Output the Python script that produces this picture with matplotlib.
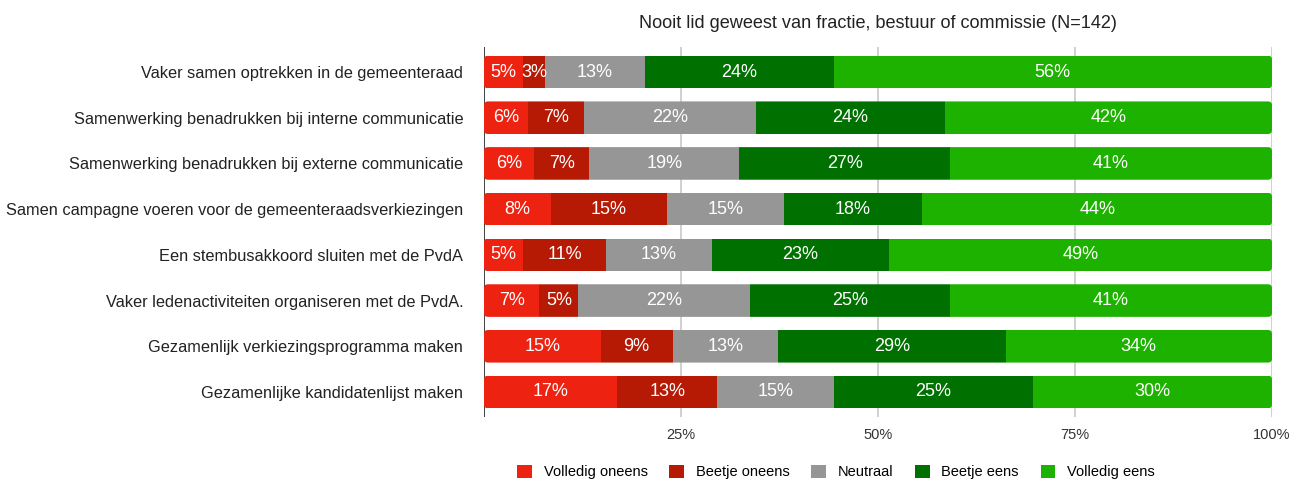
import matplotlib
matplotlib.use("Agg")
import matplotlib.pyplot as plt
from matplotlib.patches import FancyBboxPatch, Patch
from matplotlib.transforms import IdentityTransform
import numpy as np

plt.rcParams['font.family'] = ['Liberation Sans', 'DejaVu Sans']

N = 142
title = "Nooit lid geweest van fractie, bestuur of commissie (N=142)"
categories = [
    "Vaker samen optrekken in de gemeenteraad",
    "Samenwerking benadrukken bij interne communicatie",
    "Samenwerking benadrukken bij externe communicatie",
    "Samen campagne voeren voor de gemeenteraadsverkiezingen",
    "Een stembusakkoord sluiten met de PvdA",
    "Vaker ledenactiviteiten organiseren met de PvdA.",
    "Gezamenlijk verkiezingsprogramma maken",
    "Gezamenlijke kandidatenlijst maken",
]
series = ["Volledig oneens", "Beetje oneens", "Neutraal", "Beetje eens", "Volledig eens"]
# respondent counts per answer (out of N=142)
volledig_oneens = [7, 8, 9, 12, 7, 10, 21, 24]
beetje_oneens   = [4, 10, 10, 21, 15, 7, 13, 18]
neutraal        = [18, 31, 27, 21, 19, 31, 19, 21]
beetje_eens     = [34, 34, 38, 25, 32, 36, 41, 36]
volledig_eens   = [79, 59, 58, 63, 69, 58, 48, 43]
colors = ["#EE2211", "#B61A04", "#969696", "#007100", "#1DB100"]
xticks = [25, 50, 75, 100]
xticklabels = ["25%", "50%", "75%", "100%"]

data = np.array([volledig_oneens, beetje_oneens, neutraal, beetje_eens, volledig_eens], dtype=float) / N * 100

fig = plt.figure(figsize=(13.04, 4.82), dpi=100)
ax = fig.add_axes([484/1304, 1-417/482, (1272-484)/1304, (417-47)/482])
ax.set_xlim(0, 100)
n = len(categories)
ax.set_ylim(7.547, -0.547)
ypos = np.arange(n)
h = 0.713

for s in ax.spines.values():
    s.set_visible(False)
ax.axvline(0, color="#222222", lw=1.2, zorder=1)
for t in xticks:
    ax.axvline(t, color="#c8c8c8", lw=1.2, zorder=0)

fig.canvas.draw()
left = np.zeros(n)
seg_bars = []
for i in range(len(series)):
    bars = ax.barh(ypos, data[i], left=left, height=h, color=colors[i], edgecolor="none", zorder=2, label=series[i])
    seg_bars.append(bars)
    for j in range(n):
        v = data[i][j]
        ax.text(left[j] + v/2, ypos[j], f"{v:.0f}%", ha="center", va="center", color="white", fontsize=13, zorder=3)
    left = left + data[i]

# rounded ends for each whole bar
for j in range(n):
    (x0, y0) = ax.transData.transform((0, ypos[j] + h/2))
    (x1, y1) = ax.transData.transform((100, ypos[j] - h/2))
    clip = FancyBboxPatch((x0, y0), x1 - x0, y1 - y0, boxstyle="round,pad=0,rounding_size=4",
                          transform=IdentityTransform(), facecolor="none", edgecolor="none")
    for bars in seg_bars:
        bars[j].set_clip_path(clip)

ax.set_yticks(ypos)
ax.set_yticklabels(categories, fontsize=11.8, color="#222222")
ax.set_xticks(xticks)
ax.set_xticklabels(xticklabels, fontsize=10.5, color="#333333")
ax.tick_params(axis="both", length=0)
ax.tick_params(axis="y", pad=15)
ax.tick_params(axis="x", pad=8)

fig.text((484+1272)/2/1304, 1-23/482, title, ha="center", va="center", fontsize=13.1, color="#222222")

handles = [Patch(facecolor=c, edgecolor="none") for c in colors]
fig.legend(handles, series, loc="center", bbox_to_anchor=(836/1304, 1-472/482), ncol=5, frameon=False,
           fontsize=10.5, handlelength=1.0, handleheight=1.0, columnspacing=1.5, handletextpad=0.8)

fig.savefig("out.png", dpi=100)
